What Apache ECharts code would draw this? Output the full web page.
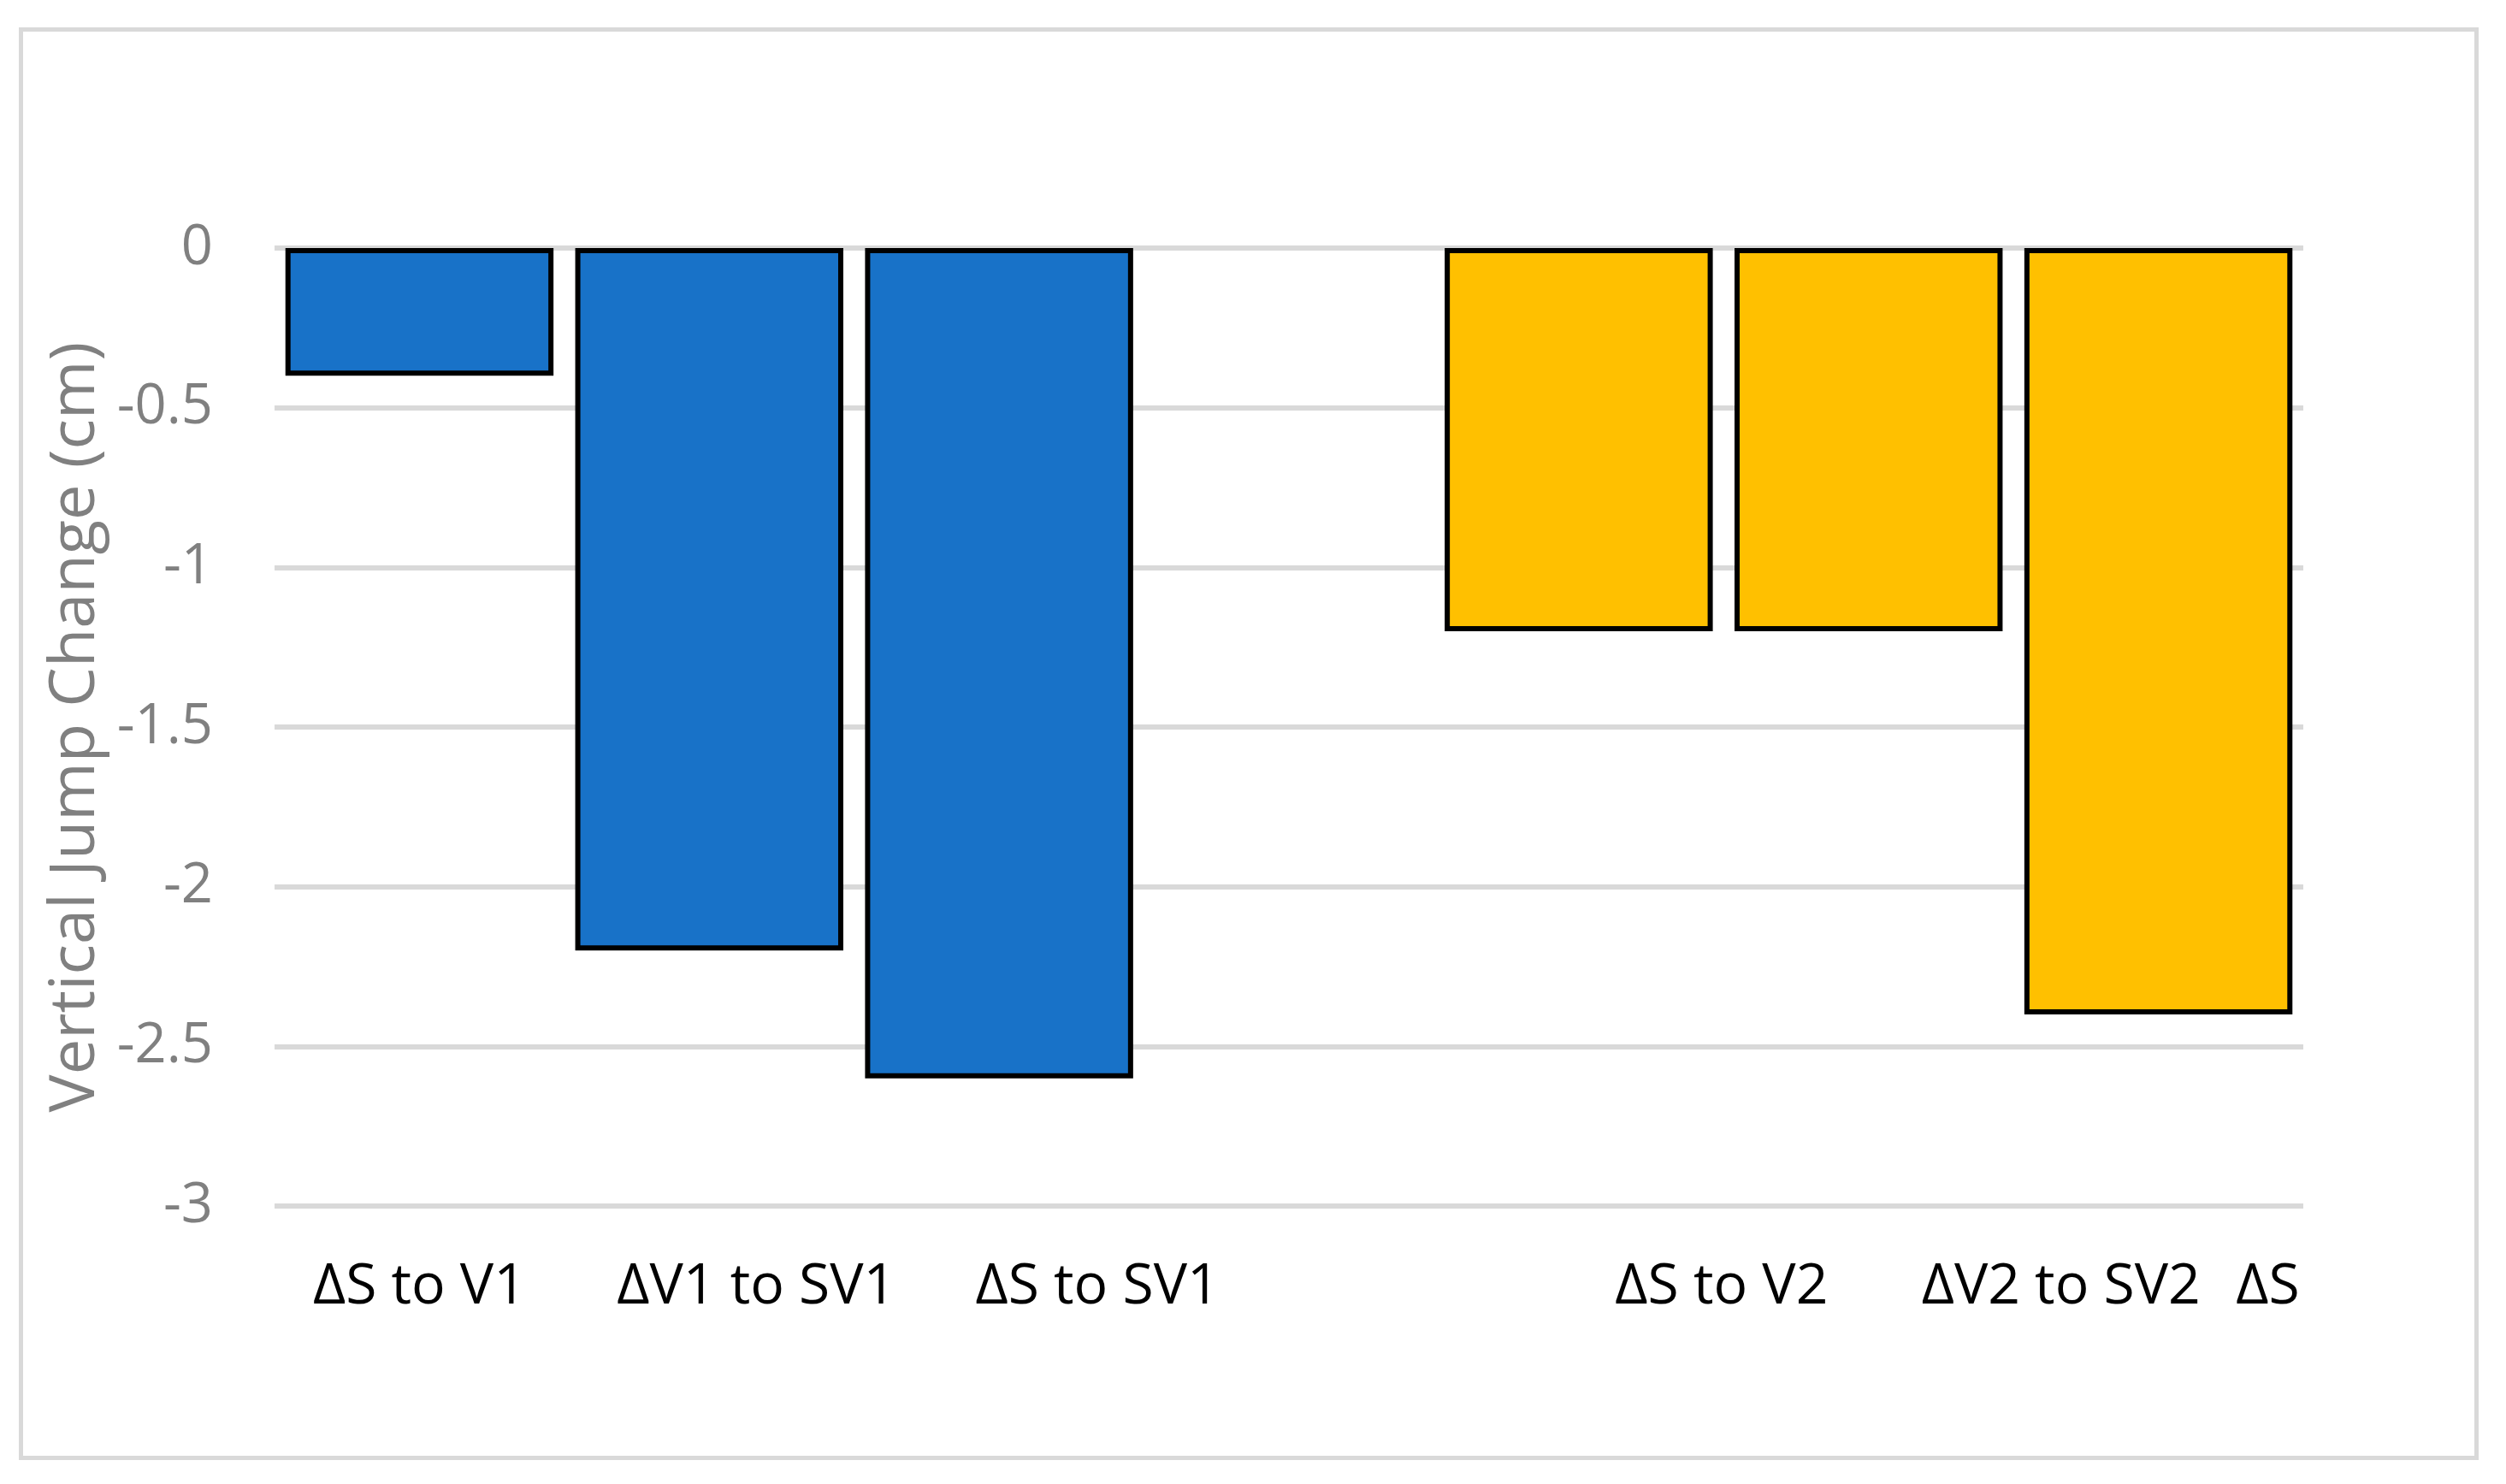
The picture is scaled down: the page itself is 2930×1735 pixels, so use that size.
<!DOCTYPE html>
<html>
<head>
<meta charset="utf-8">
<script src="https://cdn.jsdelivr.net/npm/echarts@6/dist/echarts.min.js"></script>
<style>
  html, body { margin: 0; padding: 0; background: #ffffff; }
  #frame { position: absolute; left: 22px; top: 32px; width: 2866px; height: 1665px; border: 5px solid #d9d9d9; }
  #chart { position: absolute; left: 0; top: 0; width: 2930px; height: 1735px; }
</style>
</head>
<body>
<div id="frame"></div>
<div id="chart"></div>
<script>
const categories = ['ΔS to V1', 'ΔV1 to SV1', 'ΔS to SV1', '', 'ΔS to V2', 'ΔV2 to SV2', 'ΔS to SV2'];
const tickLabels = ['ΔS to V1', 'ΔV1 to SV1', 'ΔS to SV1', '', 'ΔS to V2', 'ΔV2 to SV2', 'ΔS'];
const group1Values = [-0.4, -2.2, -2.6, '-', '-', '-', '-'];
const group2Values = ['-', '-', '-', '-', -1.2, -1.2, -2.4];
const yTicks = { min: -3, max: 0, interval: 0.5 };
const yTitle = 'Vertical Jump Change (cm)';

// label shifts (rich padding) to mimic original label placement
const labelPad = [0, 110, 230, 0, 334, 450, 256];
const rich = {};
labelPad.forEach((p, i) => {
  rich['l' + i] = { padding: [0, 0, 0, p], fontFamily: 'Open Sans', fontSize: 66, color: '#000000' };
});

const chart = echarts.init(document.getElementById('chart'), null, { renderer: 'canvas' });
chart.setOption({
  animation: false,
  backgroundColor: 'transparent',
  grid: { left: 321, right: 237, top: 290, bottom: 325, containLabel: false },
  xAxis: {
    type: 'category',
    data: categories,
    position: 'bottom',
    axisLine: { show: false, onZero: false },
    axisTick: { show: false },
    splitLine: { show: false },
    axisLabel: {
      interval: 0,
      margin: 62,
      hideOverlap: false,
      formatter: (v, i) => tickLabels[i] ? '{l' + i + '|' + tickLabels[i] + '}' : '',
      rich: rich
    }
  },
  yAxis: {
    type: 'value',
    min: yTicks.min,
    max: yTicks.max,
    interval: yTicks.interval,
    axisLine: { show: false },
    axisTick: { show: false },
    splitLine: { show: true, lineStyle: { color: '#d9d9d9', width: 6 } },
    axisLabel: { margin: 72, fontFamily: 'Open Sans', fontSize: 65, color: '#808080' },
    name: yTitle,
    nameLocation: 'middle',
    nameGap: 179,
    nameTextStyle: { fontFamily: 'Open Sans', fontSize: 74, color: '#808080' }
  },
  series: [
    {
      type: 'bar',
      name: 'Group 1',
      data: group1Values,
      barCategoryGap: '7.5%',
      barGap: '-100%',
      itemStyle: { color: '#1872c8', borderColor: '#000000', borderWidth: 6 }
    },
    {
      type: 'bar',
      name: 'Group 2',
      data: group2Values,
      barCategoryGap: '7.5%',
      barGap: '-100%',
      itemStyle: { color: '#ffc000', borderColor: '#000000', borderWidth: 6 }
    }
  ]
});
</script>
</body>
</html>
